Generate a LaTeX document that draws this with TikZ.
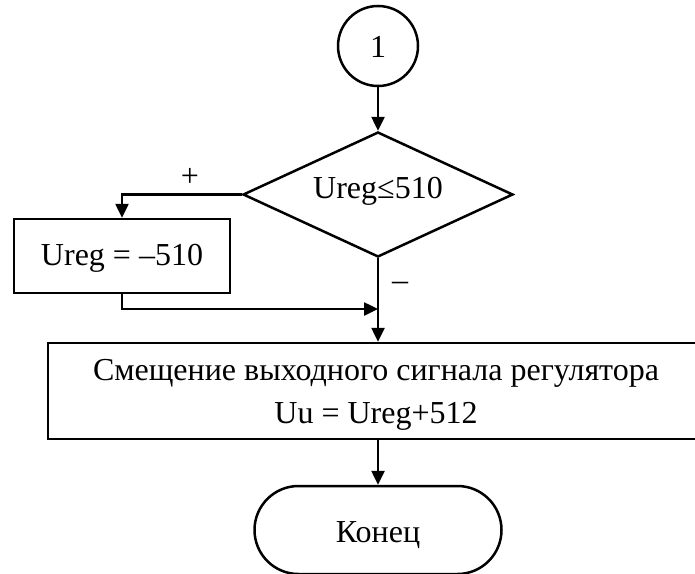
\documentclass[tikz,border=0pt]{standalone}
\usepackage{fontspec}
\setmainfont{Liberation Serif}
\usetikzlibrary{arrows.meta,shapes.geometric,shapes.misc}
\begin{document}
\begin{tikzpicture}[x=1pt,y=-1pt,
  every node/.style={font=\fontsize{32}{38}\selectfont},
  ln/.style={line width=2.5pt},
  arr/.style={ln,-{Triangle[length=14pt,width=13pt]}},
  blk/.style={draw,ln,rectangle,inner sep=0pt},
  txt/.style={anchor=base,inner sep=0pt},
]
\useasboundingbox (0,0) rectangle (695,573);
\node[draw,ln,circle,minimum size=80pt,inner sep=0pt] (c1) at (378,46) {};
\node[txt] (c1t) at (378,57) {1};
\node[draw,ln,diamond,minimum width=270pt,minimum height=125pt,inner sep=0pt] (d) at (378,194.5) {};
\node[txt] (dt) at (378,198) {Ureg≤510};
\node[blk,minimum width=216pt,minimum height=74pt] (b1) at (122,256) {};
\node[txt] (b1t) at (122,265) {Ureg = –510};
\node[blk,minimum width=660pt,minimum height=96pt] (b2) at (378,391) {};
\node[txt] (b2t1) at (376,380) {Смещение выходного сигнала регулятора};
\node[txt] (b2t2) at (376,423) {Uu = Ureg+512};
\node[draw,ln,rounded rectangle,minimum width=247pt,minimum height=88pt,inner sep=0pt] (t) at (378,530) {};
\node[txt] (tt) at (378,542) {Конец};
\coordinate (j) at (378,309);
\draw[arr] (c1.south) -- (d.north);
\draw[arr] (d.west) -| (b1.north);
\draw[arr] (b1.south) |- (j);
\draw[arr] (d.south) -- (b2.north);
\draw[arr] (b2.south) -- (t.north);
\node (plus) at (190,177) {+};
\node (minus) at (400,286) {–};
\end{tikzpicture}
\end{document}
